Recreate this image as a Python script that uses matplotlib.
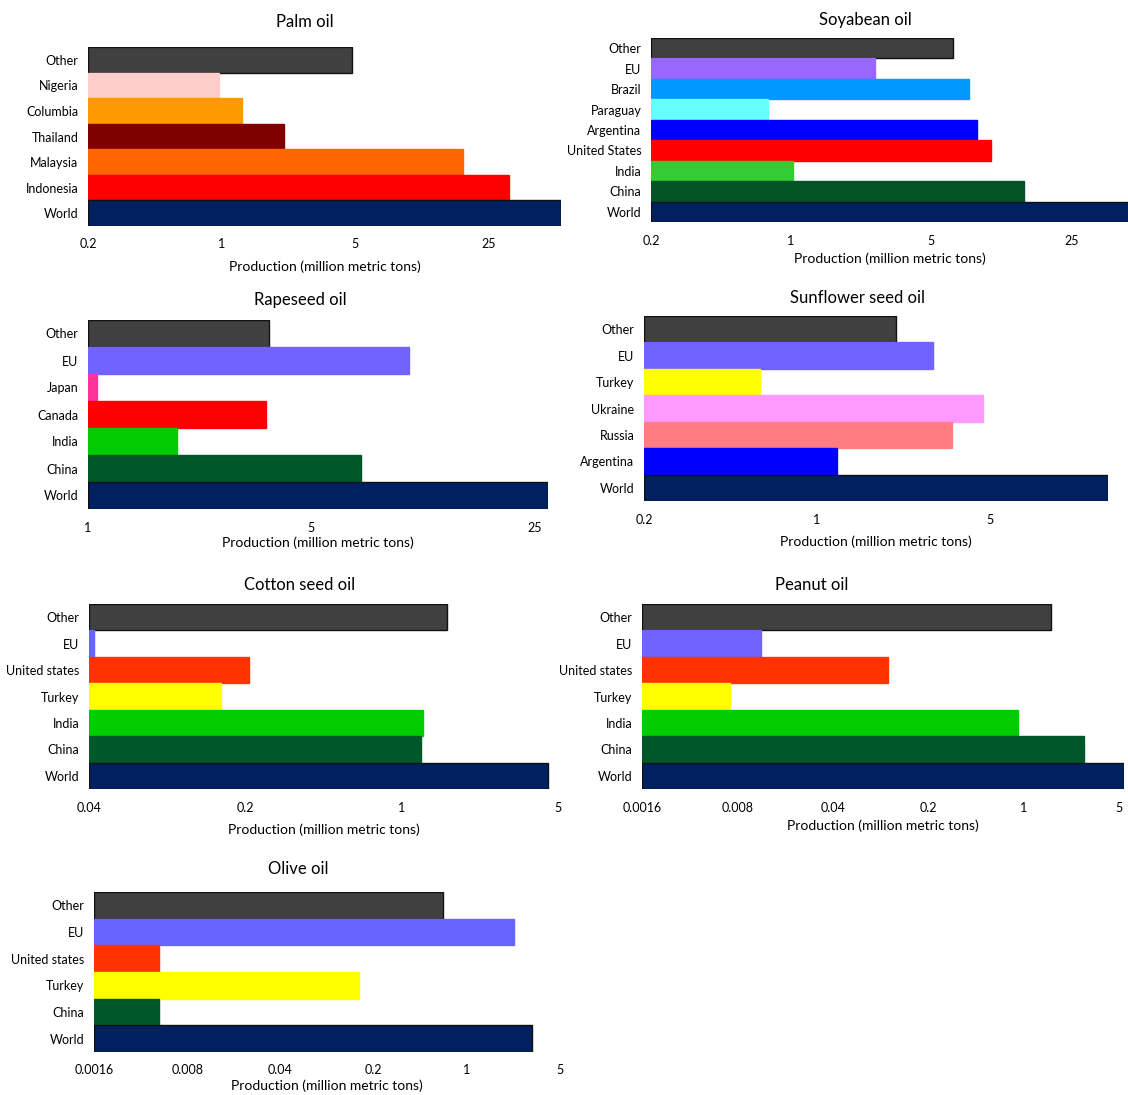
import numpy as np
import matplotlib.pyplot as plt

plt.rcParams['font.family'] = ['Lato', 'DejaVu Sans']

# values in million metric tons, listed top to bottom
palm_names = ['Other', 'Nigeria', 'Columbia', 'Thailand', 'Malaysia', 'Indonesia', 'World']
palm_vals = [4.85, 0.97, 1.28, 2.12, 18.5, 32.0, 60.0]
palm_cols = ['#404040', '#FFCCCC', '#FF9900', '#800000', '#FF6600', '#FF0000', '#002060']

soy_names = ['Other', 'EU', 'Brazil', 'Paraguay', 'Argentina', 'United States', 'India', 'China', 'World']
soy_vals = [6.4, 2.63, 7.7, 0.77, 8.5, 10.0, 1.02, 14.5, 55.0]
soy_cols = ['#404040', '#9966FF', '#0099FF', '#66FFFF', '#0000FF', '#FF0000', '#33CC33', '#005426', '#002060']

rape_names = ['Other', 'EU', 'Japan', 'Canada', 'India', 'China', 'World']
rape_vals = [3.68, 10.1, 1.07, 3.61, 1.90, 7.15, 27.5]
rape_cols = ['#404040', '#7163FF', '#FF3399', '#FF0000', '#00CC00', '#00582A', '#002060']

sun_names = ['Other', 'EU', 'Turkey', 'Ukraine', 'Russia', 'Argentina', 'World']
sun_vals = [2.09, 2.94, 0.59, 4.7, 3.5, 1.21, 15.0]
sun_cols = ['#404040', '#7163FF', '#FFFF00', '#FF99FF', '#FF7C80', '#0000FF', '#002060']

cot_names = ['Other', 'EU', 'United states', 'Turkey', 'India', 'China', 'World']
cot_vals = [1.59, 0.042, 0.208, 0.156, 1.25, 1.22, 4.49]
cot_cols = ['#404040', '#6666FF', '#FF3300', '#FFFF00', '#00CC00', '#00582A', '#002060']

pea_names = ['Other', 'EU', 'United states', 'Turkey', 'India', 'China', 'World']
pea_vals = [1.57, 0.0118, 0.101, 0.0070, 0.904, 2.76, 5.4]
pea_cols = ['#404040', '#7163FF', '#FF3300', '#FFFF00', '#00CC00', '#00582A', '#002060']

olive_names = ['Other', 'EU', 'United states', 'Turkey', 'China', 'World']
olive_vals = [0.66, 2.24, 0.0049, 0.155, 0.0049, 3.08]
olive_cols = ['#404040', '#6666FF', '#FF3300', '#FFFF00', '#00582A', '#002060']

ticks_a = [0.2, 1, 5, 25]
ticks_b = [1, 5, 25]
ticks_c = [0.2, 1, 5]
ticks_d = [0.04, 0.2, 1, 5]
ticks_e = [0.0016, 0.008, 0.04, 0.2, 1, 5]

W, H = 1128, 1095


def add_ax(fig, x0, x1, y0, y1):
    # pixel box -> figure fraction
    return fig.add_axes([x0 / W, 1 - y1 / H, (x1 - x0) / W, (y1 - y0) / H])


def plot_oil(ax, names, vals, cols, ticks, lim):
    n = len(names)
    y = np.arange(n)[::-1]
    edges = ['#111111' if c in ('#404040', '#002060') else c for c in cols]
    # bars start at the left end of the log axis
    w = np.array(vals) - lim[0]
    ax.barh(y, w, height=1.0, left=lim[0], color=cols, edgecolor=edges, linewidth=1.0)
    ax.set_xscale('log')
    ax.set_xlim(lim)
    ax.set_ylim(-0.5, n - 0.5)
    ax.set_yticks(y)
    ax.set_yticklabels(names, fontsize=9)
    ax.set_xticks(ticks)
    ax.set_xticklabels([('%g' % t) for t in ticks], fontsize=9)
    ax.xaxis.set_minor_locator(plt.NullLocator())
    ax.tick_params(length=0)
    ax.tick_params(axis='x', pad=9)
    ax.tick_params(axis='y', pad=7)
    for s in ax.spines.values():
        s.set_visible(False)
    ax.set_xlabel('Production (million metric tons)', fontsize=10, labelpad=7)


fig = plt.figure(figsize=(W / 100, H / 100), dpi=100)

ax = add_ax(fig, 88, 561, 47, 226)
plot_oil(ax, palm_names, palm_vals, palm_cols, ticks_a, (0.2, 60.0))
fig.text(305 / W, 1 - 22 / H, 'Palm oil', ha='center', va='center', fontsize=12)

ax = add_ax(fig, 651, 1128, 38, 222)
plot_oil(ax, soy_names, soy_vals, soy_cols, ticks_a, (0.2, 48.0))
ax.xaxis.labelpad = 4
fig.text(865 / W, 1 - 20 / H, 'Soyabean oil', ha='center', va='center', fontsize=12)

ax = add_ax(fig, 88, 548, 320, 509)
plot_oil(ax, rape_names, rape_vals, rape_cols, ticks_b, (1, 27.5))
ax.xaxis.labelpad = 2
fig.text(300 / W, 1 - 300 / H, 'Rapeseed oil', ha='center', va='center', fontsize=12)

ax = add_ax(fig, 644, 1108, 316, 501)
plot_oil(ax, sun_names, sun_vals, sun_cols, ticks_c, (0.2, 15.0))
fig.text(858 / W, 1 - 298 / H, 'Sunflower seed oil', ha='center', va='center', fontsize=12)

ax = add_ax(fig, 89, 558, 604, 789)
plot_oil(ax, cot_names, cot_vals, cot_cols, ticks_d, (0.04, 5))
fig.text(300 / W, 1 - 585 / H, 'Cotton seed oil', ha='center', va='center', fontsize=12)

ax = add_ax(fig, 642, 1124, 604, 789)
plot_oil(ax, pea_names, pea_vals, pea_cols, ticks_e, (0.0016, 5.4))
ax.xaxis.labelpad = 4
fig.text(812 / W, 1 - 585 / H, 'Peanut oil', ha='center', va='center', fontsize=12)

ax = add_ax(fig, 94, 560, 892, 1052)
plot_oil(ax, olive_names, olive_vals, olive_cols, ticks_e, (0.0016, 5))
ax.xaxis.labelpad = 2
fig.text(298 / W, 1 - 869 / H, 'Olive oil', ha='center', va='center', fontsize=12)

fig.savefig('out.png', dpi=100)
